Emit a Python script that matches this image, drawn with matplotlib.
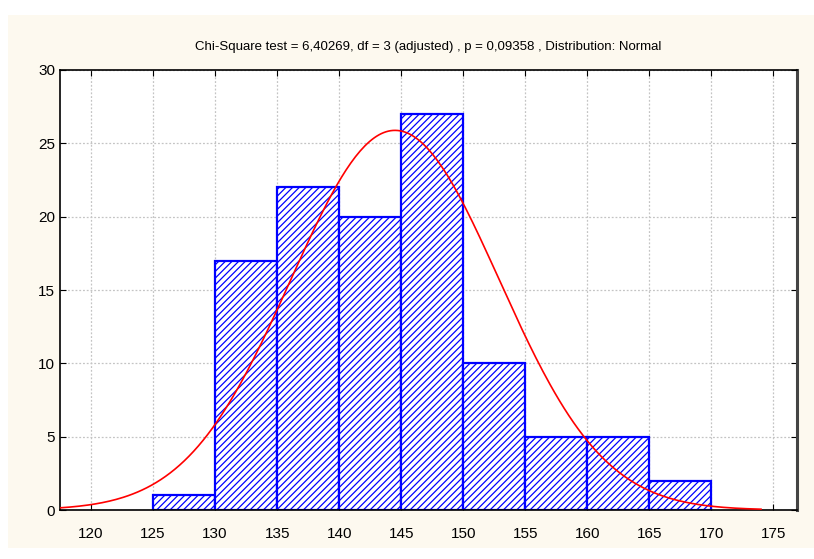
import numpy as np
import matplotlib.pyplot as plt
from matplotlib.patches import Rectangle

# histogram bins (lower edges) and counts
bin_left = [125, 130, 135, 140, 145, 150, 155, 160, 165]
counts = [1, 17, 22, 20, 27, 10, 5, 5, 2]
bin_width = 5

# fitted normal curve parameters
fit_mean = 144.5
fit_sd = 8.4
curve_from, curve_to = 117.5, 174.0

title = 'Chi-Square test = 6,40269, df = 3 (adjusted) , p = 0,09358 , Distribution: Normal'

plt.rcParams['font.family'] = ['Liberation Sans', 'DejaVu Sans']
plt.rcParams['hatch.color'] = 'blue'
plt.rcParams['hatch.linewidth'] = 0.9

fig = plt.figure(figsize=(8.14, 5.59), dpi=100, facecolor='white')
fig.patches.append(Rectangle((8 / 814, 11 / 559), 1, 533 / 559, transform=fig.transFigure,
                             facecolor='#fdf9ef', edgecolor='none', zorder=-5))

ax = fig.add_axes([60 / 814, 49 / 559, 737 / 814, 440 / 559])
ax.set_facecolor('white')

ax.bar(bin_left, counts, width=bin_width, align='edge', facecolor='white',
       edgecolor='blue', linewidth=1.6, hatch='/////', zorder=2)

n = sum(counts)
xs = np.linspace(curve_from, curve_to, 300)
ys = n * bin_width / (fit_sd * np.sqrt(2 * np.pi)) * np.exp(-0.5 * ((xs - fit_mean) / fit_sd) ** 2)
ax.plot(xs, ys, color='red', linewidth=1.2, zorder=3)

ax.set_xlim(117.5, 176.9)
ax.set_ylim(0, 30)
ax.set_xticks(range(120, 176, 5))
ax.set_yticks(range(0, 31, 5))
ax.grid(True, color='#c4c4c4', linestyle=(0, (1.5, 1.5)), linewidth=0.9, zorder=0)
ax.set_axisbelow(True)
ax.tick_params(direction='in', top=True, right=True, length=4, labelsize=11, colors='black')
ax.tick_params(axis='x', pad=12)
for s in ax.spines.values():
    s.set_linewidth(1.2)
ax.spines['right'].set_linewidth(2.2)
ax.spines['right'].set_color('#444444')

fig.text((60 + 797) / 2 / 814, 1 - 47 / 559, title, ha='center', va='center', fontsize=9.5)

fig.savefig('out.png', dpi=100, facecolor=fig.get_facecolor())
